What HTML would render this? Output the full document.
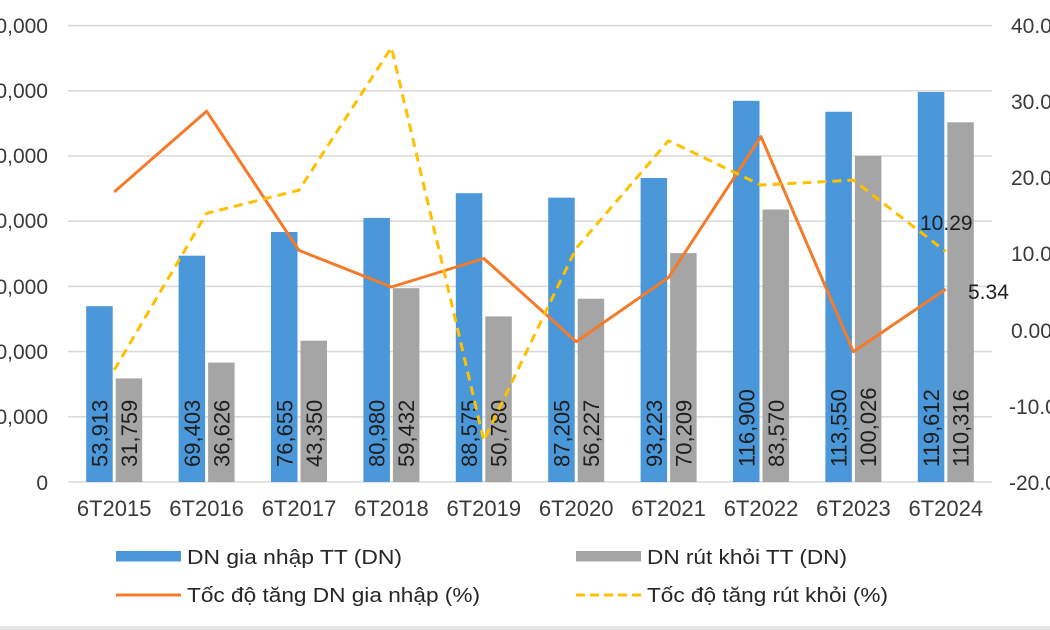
<!DOCTYPE html>
<html><head><meta charset="utf-8"><style>
html,body{margin:0;padding:0;background:#fff;}
svg{display:block;}
text{font-family:"Liberation Sans",Arial,sans-serif;}
</style></head><body>
<svg width="1050" height="630" viewBox="0 0 1050 630" xmlns="http://www.w3.org/2000/svg">
<rect x="0" y="0" width="1050" height="630" fill="#fff"/>
<rect x="0" y="626" width="1050" height="4" fill="#e6e6e6"/>
<!-- gridlines -->
<g stroke="#dadada" stroke-width="1.6">
<line x1="68" y1="25.6" x2="992" y2="25.6"/>
<line x1="68" y1="90.8" x2="992" y2="90.8"/>
<line x1="68" y1="156" x2="992" y2="156"/>
<line x1="68" y1="221.2" x2="992" y2="221.2"/>
<line x1="68" y1="286.4" x2="992" y2="286.4"/>
<line x1="68" y1="351.6" x2="992" y2="351.6"/>
<line x1="68" y1="416.8" x2="992" y2="416.8"/>
<line x1="68" y1="482" x2="992" y2="482"/>
</g>
<!-- left axis labels -->
<g font-size="21" fill="#3a3a3a" text-anchor="end">
<text x="48" y="33">140,000</text>
<text x="48" y="98">120,000</text>
<text x="48" y="163">100,000</text>
<text x="48" y="228">80,000</text>
<text x="48" y="294">60,000</text>
<text x="48" y="359">40,000</text>
<text x="48" y="424">20,000</text>
<text x="48" y="490">0</text>
</g>
<!-- right axis labels -->
<g font-size="21" fill="#3a3a3a">
<text x="1011" y="33">40.00</text>
<text x="1011" y="109">30.00</text>
<text x="1011" y="185">20.00</text>
<text x="1011" y="261">10.00</text>
<text x="1011" y="338">0.00</text>
<text x="1009" y="414">-10.00</text>
<text x="1009" y="490">-20.00</text>
</g>
<!-- bars blue -->
<g fill="#4a97d9">
<rect x="86.2" y="306.2" width="26.5" height="175.8"/>
<rect x="178.6" y="255.7" width="26.5" height="226.3"/>
<rect x="271" y="232" width="26.5" height="250"/>
<rect x="363.4" y="217.9" width="26.5" height="264.1"/>
<rect x="455.8" y="193.2" width="26.5" height="288.8"/>
<rect x="548.2" y="197.65" width="26.5" height="284.35"/>
<rect x="640.6" y="178" width="26.5" height="304"/>
<rect x="733" y="100.8" width="26.5" height="381.2"/>
<rect x="825.4" y="111.75" width="26.5" height="370.25"/>
<rect x="917.8" y="92" width="26.5" height="390"/>
</g>
<!-- bars gray -->
<g fill="#a5a5a5">
<rect x="115.7" y="378.4" width="26.5" height="103.6"/>
<rect x="208.1" y="362.6" width="26.5" height="119.4"/>
<rect x="300.5" y="340.65" width="26.5" height="141.35"/>
<rect x="392.9" y="288.2" width="26.5" height="193.8"/>
<rect x="485.3" y="316.4" width="26.5" height="165.6"/>
<rect x="577.7" y="298.7" width="26.5" height="183.3"/>
<rect x="670.1" y="253.1" width="26.5" height="228.9"/>
<rect x="762.5" y="209.5" width="26.5" height="272.5"/>
<rect x="854.9" y="155.85" width="26.5" height="326.15"/>
<rect x="947.3" y="122.3" width="26.5" height="359.7"/>
</g>
<!-- data labels -->
<g font-size="22" fill="#1e1e1e">
<text transform="translate(107.5,467) rotate(-90)">53,913</text>
<text transform="translate(137,467) rotate(-90)">31,759</text>
<text transform="translate(199.9,467) rotate(-90)">69,403</text>
<text transform="translate(229.4,467) rotate(-90)">36,626</text>
<text transform="translate(292.3,467) rotate(-90)">76,655</text>
<text transform="translate(321.8,467) rotate(-90)">43,350</text>
<text transform="translate(384.7,467) rotate(-90)">80,980</text>
<text transform="translate(414.2,467) rotate(-90)">59,432</text>
<text transform="translate(477.1,467) rotate(-90)">88,575</text>
<text transform="translate(506.6,467) rotate(-90)">50,780</text>
<text transform="translate(569.5,467) rotate(-90)">87,205</text>
<text transform="translate(599,467) rotate(-90)">56,227</text>
<text transform="translate(661.9,467) rotate(-90)">93,223</text>
<text transform="translate(691.4,467) rotate(-90)">70,209</text>
<text transform="translate(754.3,467) rotate(-90)">116,900</text>
<text transform="translate(783.8,467) rotate(-90)">83,570</text>
<text transform="translate(846.7,467) rotate(-90)">113,550</text>
<text transform="translate(876.2,467) rotate(-90)">100,026</text>
<text transform="translate(939.1,467) rotate(-90)">119,612</text>
<text transform="translate(968.6,467) rotate(-90)">110,316</text>
</g>
<!-- lines -->
<polyline fill="none" stroke="#f47b2b" stroke-width="3" stroke-linejoin="round"
 points="114.2,192 206.6,111.2 299,250.4 391.4,287 483.8,258.5 576.2,341.7 668.6,277.4 761,136.6 853.4,351.7 945.8,289.2"/>
<polyline fill="none" stroke="#ffc000" stroke-width="3" stroke-dasharray="9,6" stroke-linejoin="round"
 points="114.2,370 206.6,213.3 299,190.2 391.4,47.6 483.8,440.6 576.2,248.2 668.6,140.7 761,185.1 853.4,180.1 945.8,251.6"/>
<!-- line end labels -->
<g font-size="21" fill="#1e1e1e">
<text x="920" y="230">10.29</text>
<text x="968" y="299">5.34</text>
</g>
<!-- category labels -->
<g font-size="22" fill="#3a3a3a" text-anchor="middle">
<text x="114.2" y="516">6T2015</text>
<text x="206.6" y="516">6T2016</text>
<text x="299" y="516">6T2017</text>
<text x="391.4" y="516">6T2018</text>
<text x="483.8" y="516">6T2019</text>
<text x="576.2" y="516">6T2020</text>
<text x="668.6" y="516">6T2021</text>
<text x="761" y="516">6T2022</text>
<text x="853.4" y="516">6T2023</text>
<text x="945.8" y="516">6T2024</text>
</g>
<!-- legend -->
<rect x="116" y="551" width="65" height="10.5" fill="#4a97d9"/>
<rect x="576" y="551" width="65" height="10.5" fill="#a5a5a5"/>
<line x1="116" y1="595" x2="181" y2="595" stroke="#f47b2b" stroke-width="3"/>
<line x1="576" y1="595" x2="641" y2="595" stroke="#ffc000" stroke-width="3" stroke-dasharray="9,5"/>
<g font-size="20" fill="#262626">
<text x="187" y="564" textLength="215" lengthAdjust="spacingAndGlyphs">DN gia nhập TT (DN)</text>
<text x="647" y="564" textLength="200" lengthAdjust="spacingAndGlyphs">DN rút khỏi TT (DN)</text>
<text x="187" y="602" textLength="293" lengthAdjust="spacingAndGlyphs">Tốc độ tăng DN gia nhập (%)</text>
<text x="647" y="602" textLength="241" lengthAdjust="spacingAndGlyphs">Tốc độ tăng rút khỏi (%)</text>
</g>
</svg>
</body></html>
